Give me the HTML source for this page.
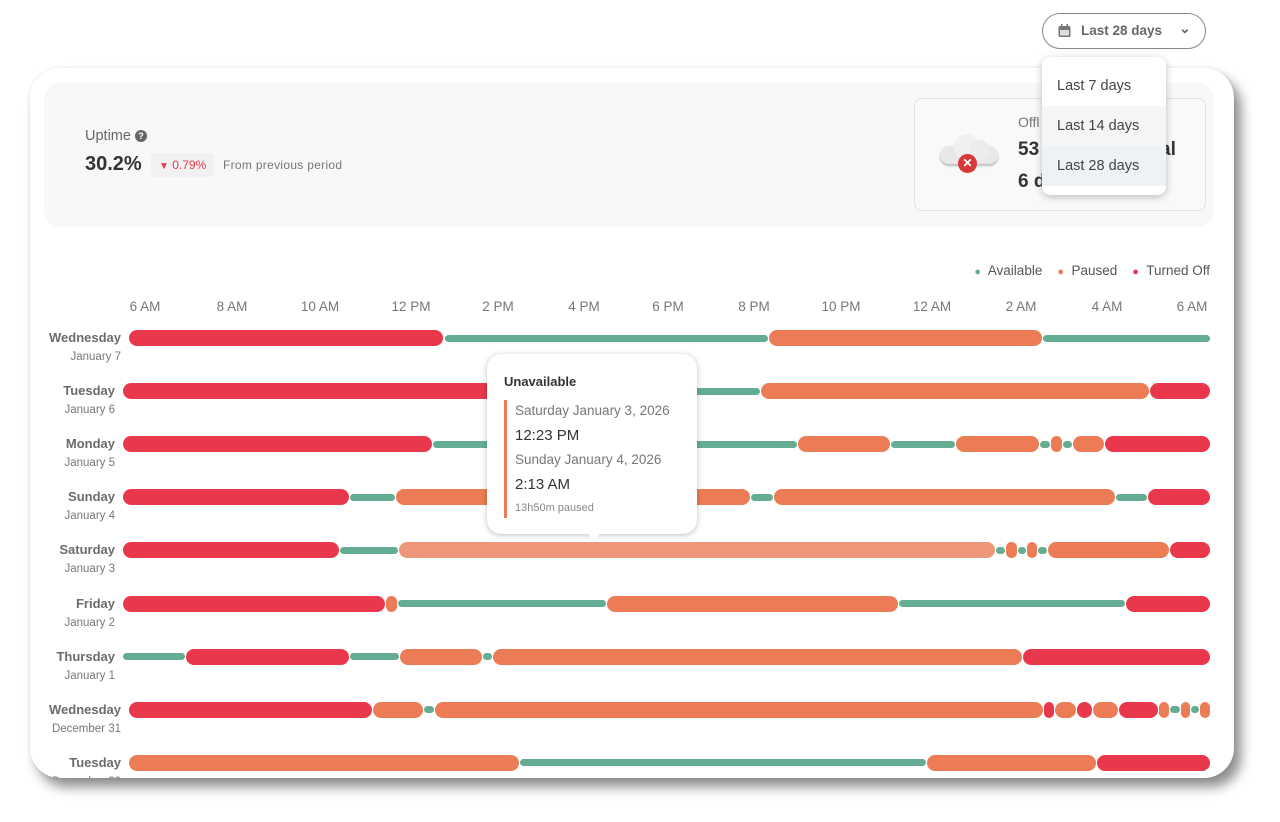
<!DOCTYPE html>
<html><head><meta charset="utf-8"><style>
body{margin:0;width:1280px;height:822px;background:#fff;font-family:"Liberation Sans",sans-serif;position:relative;overflow:hidden}
.a{position:absolute}
.card{left:30px;top:68px;width:1204px;height:710px;background:#fff;border-radius:30px;box-shadow:7px 9px 12px rgba(0,0,0,.45),0 0 4px rgba(0,0,0,.08);overflow:hidden}
.seg{position:absolute;border-radius:9px}
.lbl{position:absolute;text-align:right;color:#666}
.lbl b{display:block;font-size:13px;color:#6b6b6b}
.lbl span{display:block;font-size:11.5px;margin-top:6px;color:#777}
.tick{position:absolute;top:231px;font-size:13.5px;color:#777;transform:translateX(-50%)}
</style></head><body>
<div class="a" style="left:1042px;top:13px;width:162px;height:34px;border:1px solid #888;border-radius:18px;font-size:13.5px;color:#666;font-weight:bold">
<svg class="a" style="left:15px;top:10px" width="13" height="14"><rect x="0.5" y="2" width="12" height="11" rx="1.5" fill="#777"/><rect x="2" y="6" width="9" height="5.5" fill="#ddd"/><rect x="3" y="0" width="1.5" height="3" fill="#777"/><rect x="8.5" y="0" width="1.5" height="3" fill="#777"/></svg>
<span class="a" style="left:38px;top:9px">Last 28 days</span>
<span class="a" style="left:136px;top:6px;font-size:14px">&#8964;</span></div>
<div class="a card">
<div class="a" style="left:14px;top:15px;width:1170px;height:144px;background:#f8f8f8;border-radius:16px"></div>
<div class="a" style="left:55px;top:60px;font-size:14.5px;color:#666">Uptime <span style="display:inline-block;width:12px;height:12px;border-radius:50%;background:#666;color:#fff;font-size:9px;text-align:center;line-height:12px;font-weight:bold;vertical-align:1px">?</span></div>
<div class="a" style="left:55px;top:85px;font-size:20px;font-weight:bold;color:#333">30.2%</div>
<div class="a" style="left:121px;top:85px;width:63px;height:24px;background:#f1f1f1;border-radius:3px;font-size:12px;color:#e9374b;line-height:24px"><span style="margin-left:8px;font-size:10px">&#9660;</span> 0.79%</div>
<div class="a" style="left:193px;top:90px;font-size:12px;color:#777;letter-spacing:.3px">From previous period</div>
<div class="a" style="left:884px;top:30px;width:290px;height:111px;border:1px solid #e3e3e3;border-radius:8px;background:#f9f9f9"></div>
<div class="a" style="left:910px;top:64px;width:58px;height:36px">
<div class="a" style="left:0;top:14px;width:58px;height:18px;border-radius:9px;background:#e8e8e8;box-shadow:0 2px 2px #bbb"></div>
<div class="a" style="left:14px;top:2px;width:26px;height:26px;border-radius:50%;background:#f0f0f0"></div>
<div class="a" style="left:30px;top:8px;width:20px;height:20px;border-radius:50%;background:#ececec"></div>
<div class="a" style="left:18px;top:22px;width:19px;height:19px;border-radius:50%;background:#d73a36;color:#fff;font-size:12px;text-align:center;line-height:19px;font-weight:bold">✕</div></div>
<div class="a" style="left:988px;top:46px;font-size:14px;color:#777">Offl</div>
<div class="a" style="left:988px;top:71px;font-size:19px;font-weight:bold;color:#333">53</div>
<div class="a" style="left:1130px;top:71px;font-size:19px;font-weight:bold;color:#333">al</div>
<div class="a" style="left:988px;top:103px;font-size:19px;font-weight:bold;color:#333">6 d</div>
<div class="a" style="right:24px;top:195px;font-size:13.5px;color:#555;white-space:nowrap"><span style="color:#64ad93;font-size:11px">●</span>&nbsp; Available &nbsp;&nbsp; <span style="color:#ec7c56;font-size:11px">●</span>&nbsp; Paused &nbsp;&nbsp; <span style="color:#e9374b;font-size:11px">●</span>&nbsp; Turned Off</div>
</div>
<div class="a" style="left:487px;top:354px;width:210px;height:180px;background:#fff;border-radius:14px;box-shadow:0 1px 6px rgba(0,0,0,.25)">
<div class="a" style="left:17px;top:20px;font-size:13px;font-weight:bold;color:#333">Unavailable</div>
<div class="a" style="left:17px;top:46px;width:3px;height:118px;background:#ec7c56"></div>
<div class="a" style="left:28px;top:49px;font-size:13.5px;color:#777">Saturday January 3, 2026</div>
<div class="a" style="left:28px;top:73px;font-size:15px;color:#333">12:23 PM</div>
<div class="a" style="left:28px;top:98px;font-size:13.5px;color:#777">Sunday January 4, 2026</div>
<div class="a" style="left:28px;top:122px;font-size:15px;color:#333">2:13 AM</div>
<div class="a" style="left:28px;top:148px;font-size:11px;color:#888">13h50m paused</div>
<div class="a" style="left:100px;top:178px;width:0;height:0;border-left:7px solid transparent;border-right:7px solid transparent;border-top:10px solid #fff"></div>
</div>
<div class="a" style="left:1042px;top:57px;width:124px;height:138px;background:#fff;border-radius:8px;box-shadow:0 2px 8px rgba(0,0,0,.25);overflow:hidden;font-size:14.5px;color:#444">
<div class="a" style="left:0;top:49px;width:124px;height:40px;background:#f5f5f5"></div>
<div class="a" style="left:0;top:89px;width:124px;height:40px;background:#eef2f6"></div>
<div class="a" style="left:15px;top:21px">Last 7 days</div>
<div class="a" style="left:15px;top:61px">Last 14 days</div>
<div class="a" style="left:15px;top:101px">Last 28 days</div></div>
<script>
var C={r:"#e9374b",o:"#ec7c56",g:"#64ad93",l:"#ee967a"};
var rows=[["Wednesday","January 7",[[129,443,"r"],[445,768,"g"],[769,1042,"o"],[1043,1210,"g"]]],
["Tuesday","January 6",[[123,520,"r"],[520,760,"g"],[761,1149,"o"],[1150,1210,"r"]]],
["Monday","January 5",[[123,432,"r"],[433,797,"g"],[798,890,"o"],[891,955,"g"],[956,1039,"o"],[1040,1050,"g"],[1051,1062,"o"],[1063,1072,"g"],[1073,1104,"o"],[1105,1210,"r"]]],
["Sunday","January 4",[[123,349,"r"],[350,395,"g"],[396,750,"o"],[751,773,"g"],[774,1115,"o"],[1116,1147,"g"],[1148,1210,"r"]]],
["Saturday","January 3",[[123,339,"r"],[340,398,"g"],[399,995,"l"],[996,1005,"g"],[1006,1017,"o"],[1018,1026,"g"],[1027,1037,"o"],[1038,1047,"g"],[1048,1169,"o"],[1170,1210,"r"]]],
["Friday","January 2",[[123,385,"r"],[386,397,"o"],[398,606,"g"],[607,898,"o"],[899,1125,"g"],[1126,1210,"r"]]],
["Thursday","January 1",[[123,185,"g"],[186,349,"r"],[350,399,"g"],[400,482,"o"],[483,492,"g"],[493,1022,"o"],[1023,1210,"r"]]],
["Wednesday","December 31",[[129,372,"r"],[373,423,"o"],[424,434,"g"],[435,1043,"o"],[1044,1054,"r"],[1055,1076,"o"],[1077,1092,"r"],[1093,1118,"o"],[1119,1158,"r"],[1159,1169,"o"],[1170,1180,"g"],[1181,1190,"o"],[1191,1199,"g"],[1200,1210,"o"]]],
["Tuesday","December 30",[[129,519,"o"],[520,926,"g"],[927,1096,"o"],[1097,1210,"r"]]]];
var h='';
var ticks=[[145,"6 AM"],[232,"8 AM"],[320,"10 AM"],[411,"12 PM"],[498,"2 PM"],[584,"4 PM"],[668,"6 PM"],[754,"8 PM"],[841,"10 PM"],[932,"12 AM"],[1021,"2 AM"],[1107,"4 AM"],[1192,"6 AM"]];
ticks.forEach(t=>h+='<div class="tick" style="left:'+(t[0]-30)+'px">'+t[1]+'</div>');
rows.forEach((r,i)=>{var y=338+53.1*i-68;var right=r[2][0][0]-8;
h+='<div class="lbl" style="left:0;width:'+(right-30)+'px;top:'+(y-8)+'px"><b>'+r[0]+'</b><span>'+r[1]+'</span></div>';
r[2].forEach(s=>{var th=s[2]=="g"?7:16;h+='<div class="seg" style="left:'+(s[0]-30)+'px;width:'+(s[1]-s[0])+'px;top:'+(y-th/2)+'px;height:'+th+'px;background:'+C[s[2]]+'"></div>';});});
document.querySelector('.card').insertAdjacentHTML('beforeend',h);
</script>
</body></html>
